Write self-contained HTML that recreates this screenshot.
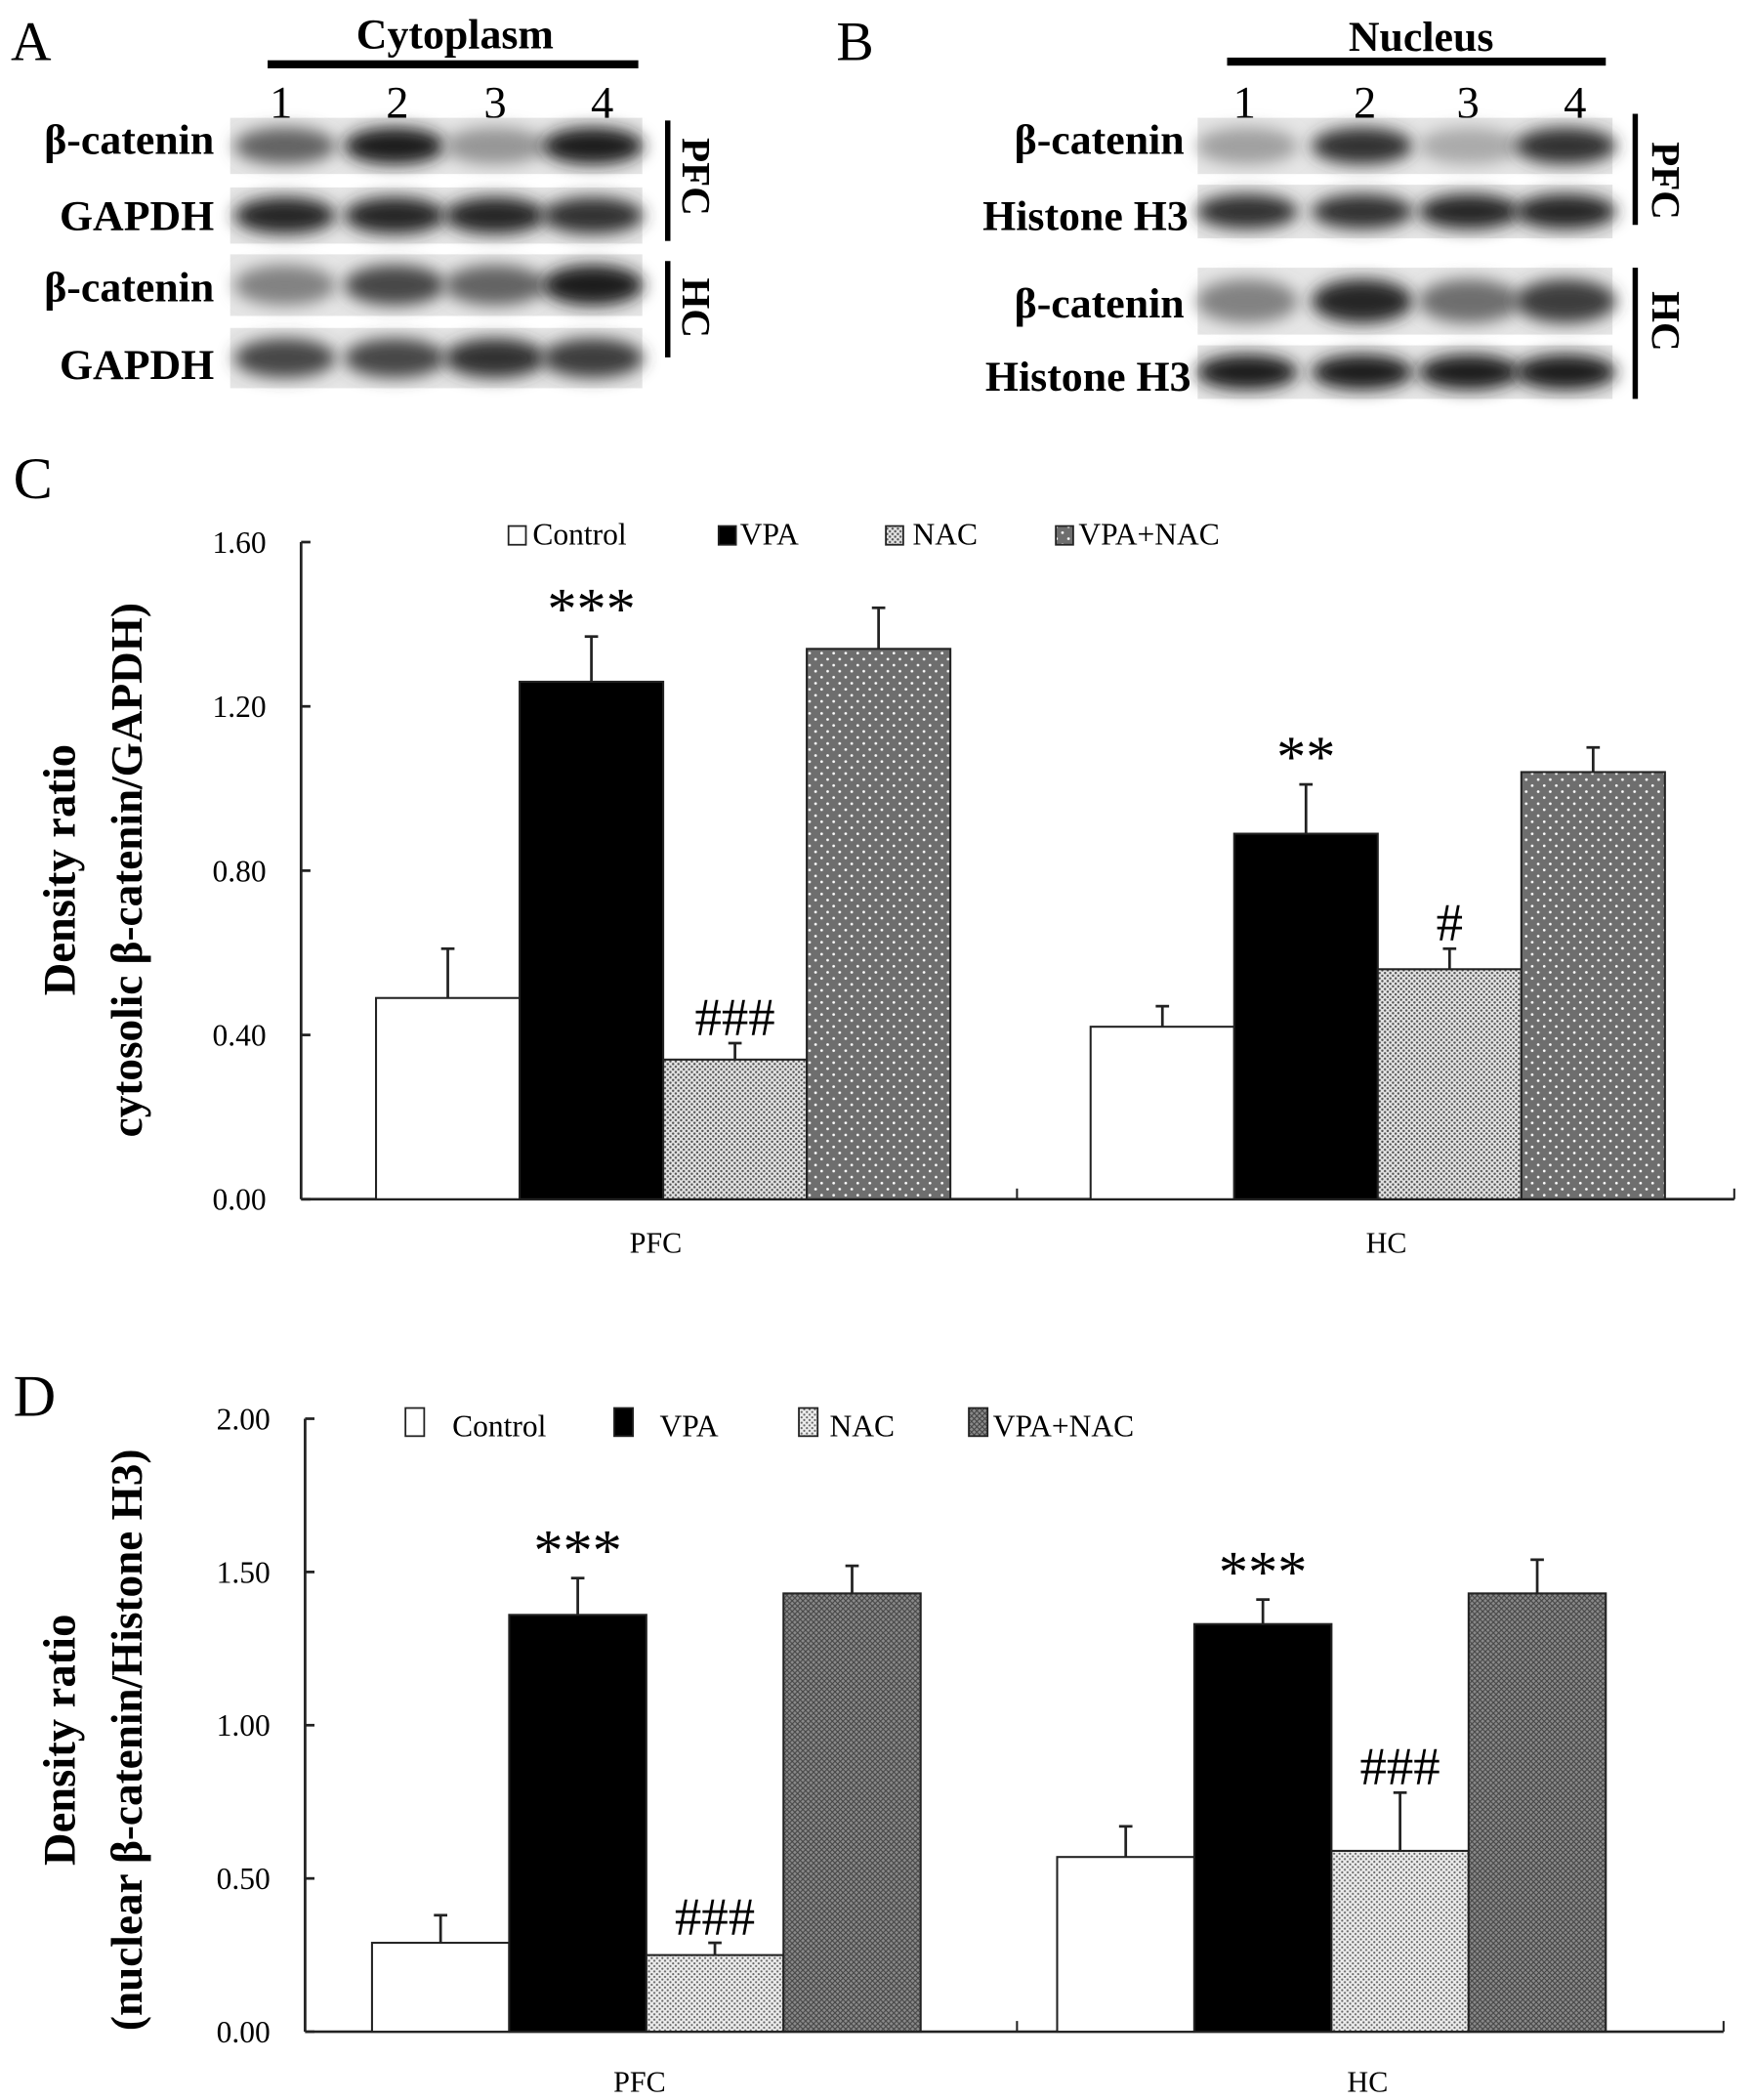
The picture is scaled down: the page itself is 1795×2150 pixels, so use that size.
<!DOCTYPE html>
<html><head><meta charset="utf-8"><style>
html,body{margin:0;padding:0;background:#fff;}
svg{display:block;font-family:"Liberation Serif",serif;}
</style></head><body>
<svg id="fig" width="1795" height="2150" viewBox="0 0 1310 1569" xmlns="http://www.w3.org/2000/svg">
<defs>
<filter id="blur" x="-30%" y="-60%" width="160%" height="220%"><feGaussianBlur stdDeviation="6"/></filter>
<pattern id="pNacC" width="4" height="4" patternUnits="userSpaceOnUse"><rect width="4" height="4" fill="#e4e4e4"/><circle cx="1" cy="1" r="0.9" fill="#555"/><circle cx="3" cy="3" r="0.9" fill="#555"/></pattern>
<pattern id="pVnC" width="9" height="9" patternUnits="userSpaceOnUse"><rect width="9" height="9" fill="#6e6e6e"/><circle cx="2" cy="2" r="1" fill="#fff"/><circle cx="6.5" cy="6.5" r="1" fill="#fff"/></pattern>
<pattern id="pNacD" width="4" height="4" patternUnits="userSpaceOnUse"><rect width="4" height="4" fill="#ececec"/><circle cx="1" cy="1" r="0.8" fill="#666"/><circle cx="3" cy="3" r="0.8" fill="#666"/></pattern>
<pattern id="pVnD" width="4" height="4" patternUnits="userSpaceOnUse"><rect width="4" height="4" fill="#8a8a8a"/><path d="M0 0L4 4M4 0L0 4" stroke="#444" stroke-width="0.8"/></pattern>
</defs>

<g>
<text x="8" y="45" font-size="42">A</text>
<text x="340" y="36" font-size="32" text-anchor="middle" font-weight="bold">Cytoplasm</text>
<rect x="200" y="45" width="277" height="6" fill="#000"/>
<g font-size="34" text-anchor="middle">
<text x="210" y="88">1</text><text x="297" y="88">2</text><text x="370" y="88">3</text><text x="450" y="88">4</text></g>
<g font-size="32" text-anchor="end" font-weight="bold">
<text x="160" y="115">β-catenin</text><text x="160" y="172">GAPDH</text><text x="160" y="225">β-catenin</text><text x="160" y="283">GAPDH</text></g>
<g id="blotsA"></g>
<rect x="497" y="90" width="4" height="90" fill="#000"/><rect x="497" y="195" width="4" height="72" fill="#000"/>
<text font-size="30" font-weight="bold" transform="translate(510,132) rotate(90)" text-anchor="middle">PFC</text>
<text font-size="30" font-weight="bold" transform="translate(510,230) rotate(90)" text-anchor="middle">HC</text>
</g>

<g>
<text x="625" y="45" font-size="42">B</text>
<text x="1062" y="38" font-size="32" text-anchor="middle" font-weight="bold">Nucleus</text>
<rect x="917" y="43" width="283" height="6" fill="#000"/>
<g font-size="34" text-anchor="middle">
<text x="930" y="88">1</text><text x="1020" y="88">2</text><text x="1097" y="88">3</text><text x="1177" y="88">4</text></g>
<g font-size="32" text-anchor="end" font-weight="bold">
<text x="885" y="115">β-catenin</text><text x="888" y="172">Histone H3</text><text x="885" y="237">β-catenin</text><text x="890" y="292">Histone H3</text></g>
<g id="blotsB"></g>
<rect x="1220" y="85" width="4" height="83" fill="#000"/><rect x="1220" y="200" width="4" height="98" fill="#000"/>
<text font-size="30" font-weight="bold" transform="translate(1235,135) rotate(90)" text-anchor="middle">PFC</text>
<text font-size="30" font-weight="bold" transform="translate(1235,240) rotate(90)" text-anchor="middle">HC</text>
</g>

<g id="chartC"></g>
<g id="chartD"></g>
</svg>
<script>
const NS="http://www.w3.org/2000/svg";
const groups=["PFC","HC"];
const series=["Control","VPA","NAC","VPA+NAC"];
const cValues=[[0.49,1.26,0.34,1.34],[0.42,0.89,0.56,1.04]];
const cErrors=[[0.12,0.11,0.04,0.10],[0.05,0.12,0.05,0.06]];
const cMarks=[["","***","###",""],["","**","#",""]];
const cTicks=["0.00","0.40","0.80","1.20","1.60"];
const dValues=[[0.29,1.36,0.25,1.43],[0.57,1.33,0.59,1.43]];
const dErrors=[[0.09,0.12,0.04,0.09],[0.10,0.08,0.19,0.11]];
const dMarks=[["","***","###",""],["","***","###",""]];
const dTicks=["0.00","0.50","1.00","1.50","2.00"];
const blotA=[[0.6,0.95,0.35,0.95],[0.9,0.9,0.9,0.85],[0.45,0.75,0.6,0.95],[0.75,0.75,0.85,0.8]];
const blotB=[[0.3,0.85,0.25,0.85],[0.85,0.85,0.9,0.9],[0.45,0.9,0.55,0.8],[0.95,0.95,0.95,0.95]];

function el(tag,attrs,parent){const e=document.createElementNS(NS,tag);for(const k in attrs)e.setAttribute(k,attrs[k]);parent.appendChild(e);return e;}

function drawBlots(gid,data,x0,x1,rows,lanes){
  const g=document.getElementById(gid);
  rows.forEach((r,i)=>{
    const strip=el('rect',{x:x0,y:r[0],width:x1-x0,height:r[1]-r[0],fill:'#e6e6e6'},g);
    
    
    data[i].forEach((v,j)=>{
      const c=Math.round(220-200*v);
      const b=el('ellipse',{cx:lanes[j],cy:(r[0]+r[1])/2,rx:38,ry:(r[1]-r[0])*0.33,fill:`rgb(${c},${c},${c})`,filter:'url(#blur)'},g);
      
      
    });
  });
}
drawBlots('blotsA',blotA,172,480,[[88,130],[140,182],[190,236],[245,290]],[213,295,370,443]);
drawBlots('blotsB',blotB,895,1205,[[88,130],[138,178],[200,250],[258,298]],[932,1018,1098,1170]);

function drawChart(o){
  const g=document.getElementById(o.id);
  const ymax=parseFloat(o.ticks[o.ticks.length-1]);
  const Y=v=>o.y0-(v/ymax)*(o.y0-o.y1);
  el('text',{x:10,y:o.labelY,'font-size':44},g).textContent=o.letter;
  el('line',{x1:o.ax,y1:o.y1,x2:o.ax,y2:o.y0,stroke:'#222','stroke-width':2},g);
  el('line',{x1:o.ax,y1:o.y0,x2:o.axEnd,y2:o.y0,stroke:'#222','stroke-width':2},g);
  el('line',{x1:o.mid,y1:o.y0,x2:o.mid,y2:o.y0-8,stroke:'#222','stroke-width':1.5},g);
  el('line',{x1:o.axEnd,y1:o.y0,x2:o.axEnd,y2:o.y0-8,stroke:'#222','stroke-width':1.5},g);
  o.ticks.forEach(t=>{
    const y=Y(parseFloat(t));
    el('line',{x1:o.ax,y1:y,x2:o.ax+7,y2:y,stroke:'#222','stroke-width':2},g);
    const tx=el('text',{x:o.ax-26,y:y+8,'font-size':23,'text-anchor':'end'},g);
    
    
    tx.textContent=t;
  });
  const tt=el('text',{transform:`translate(56,${o.titleY}) rotate(-90)`,'font-size':34,'font-weight':'bold','text-anchor':'middle'},g);
  
  
  tt.textContent='Density ratio';
  const tt2=el('text',{transform:`translate(106,${o.titleY}) rotate(-90)`,'font-size':33,'font-weight':'bold','text-anchor':'middle'},g);
  
  
  tt2.textContent=o.title2;
  groups.forEach((gn,gi)=>{
    const gx=o.groupStart[gi];
    series.forEach((s,si)=>{
      const x=gx+si*o.bw, v=o.values[gi][si], y=Y(v);
      const r=el('rect',{x:x,y:y,width:o.bw,height:o.y0-y,fill:o.fills[si],stroke:'#222','stroke-width':1.5},g);
      
      
      const ye=Y(v+o.errors[gi][si]), cx=x+o.bw/2;
      const e1=el('line',{x1:cx,y1:y,x2:cx,y2:ye,stroke:'#222','stroke-width':2},g);
      
      
      el('line',{x1:cx-5,y1:ye,x2:cx+5,y2:ye,stroke:'#222','stroke-width':2},g);
      const m=o.marks[gi][si];
      if(m){const t=el('text',{x:cx,y:ye-6,'font-size':m[0]=='#'?40:44,'text-anchor':'middle'},g);
        
        
        t.textContent=m;}
    });
    const lx=el('text',{x:o.groupLabelX[gi],y:o.groupLabelY,'font-size':22,'text-anchor':'middle'},g);
    
    
    lx.textContent=gn;
  });
  series.forEach((s,si)=>{
    const lg=el('g',{},g);
    
    
    el('rect',{x:o.legBox[si],y:o.legY-o.legH,width:o.legW,height:o.legH,fill:o.fills[si],stroke:'#222','stroke-width':1.3},lg);
    el('text',{x:o.legText[si],y:o.legY,'font-size':o.legFont},lg).textContent=s;
  });
}
drawChart({id:'chartC',letter:'C',labelY:372,ax:225,axEnd:1296,mid:760,y0:896,y1:405,ticks:cTicks,
  values:cValues,errors:cErrors,marks:cMarks,groupStart:[281,815],bw:107.3,
  fills:['#fff','#000','url(#pNacC)','url(#pVnC)'],title2:'cytosolic β-catenin/GAPDH)',titleY:650,
  groupLabelX:[490,1036],groupLabelY:936,legY:407,legH:14,legW:13,legBox:[380,537,662,789],legText:[398,553,682,806],legFont:23});
drawChart({id:'chartD',letter:'D',labelY:1058,ax:228,axEnd:1288,mid:760,y0:1518,y1:1060,ticks:dTicks,
  values:dValues,errors:dErrors,marks:dMarks,groupStart:[278,790],bw:102.5,
  fills:['#fff','#000','url(#pNacD)','url(#pVnD)'],title2:'(nuclear β-catenin/Histone H3)',titleY:1300,
  groupLabelX:[478,1022],groupLabelY:1563,legY:1073,legH:21,legW:14,legBox:[303,459,597,724],legText:[338,493,620,742],legFont:23});
</script>
</body></html>
